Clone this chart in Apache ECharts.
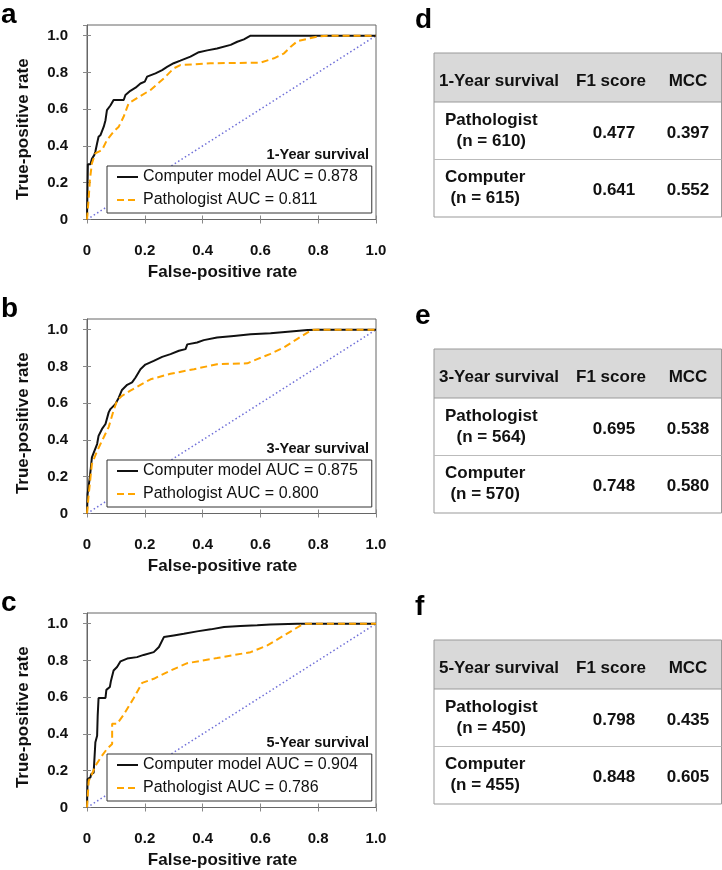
<!DOCTYPE html>
<html><head><meta charset="utf-8">
<script src="https://cdn.jsdelivr.net/npm/echarts@6/dist/echarts.min.js"></script>
<style>html,body{margin:0;padding:0;background:#fff}#c{width:722px;height:870px}</style>
</head><body><div id="c"></div>
<script>
const FONT = '"Liberation Sans", Arial, Helvetica, sans-serif';

// ---- data ----
const tickLabels = ['0', '0.2', '0.4', '0.6', '0.8', '1.0'];
const panelLetters = ['a', 'b', 'c', 'd', 'e', 'f'];
const survivalLabels = ['1-Year survival', '3-Year survival', '5-Year survival'];
const computerAUC = ['0.878', '0.875', '0.904'];
const pathologistAUC = ['0.811', '0.800', '0.786'];

const computer1 = [[0,0],[0.003,0.30],[0.012,0.30],[0.017,0.33],[0.025,0.35],[0.029,0.37],[0.035,0.415],[0.04,0.45],[0.047,0.46],[0.052,0.47],[0.058,0.505],[0.064,0.54],[0.069,0.595],[0.081,0.62],[0.092,0.65],[0.127,0.65],[0.133,0.677],[0.15,0.70],[0.168,0.717],[0.185,0.74],[0.2,0.75],[0.208,0.777],[0.237,0.795],[0.26,0.813],[0.277,0.83],[0.30,0.85],[0.323,0.864],[0.358,0.886],[0.387,0.91],[0.416,0.92],[0.45,0.93],[0.497,0.95],[0.52,0.967],[0.543,0.98],[0.566,1.0],[1,1]];
const pathologist1 = [[0,0],[0.006,0.12],[0.01,0.215],[0.017,0.305],[0.029,0.36],[0.052,0.378],[0.069,0.432],[0.092,0.478],[0.11,0.505],[0.127,0.56],[0.144,0.632],[0.173,0.66],[0.22,0.705],[0.266,0.768],[0.30,0.822],[0.323,0.84],[0.427,0.85],[0.60,0.853],[0.647,0.877],[0.682,0.904],[0.705,0.94],[0.728,0.97],[0.797,0.995],[0.832,1.0],[1,1]];

const computer3 = [[0,0],[0.002,0.105],[0.01,0.2],[0.017,0.305],[0.023,0.33],[0.035,0.378],[0.04,0.422],[0.052,0.46],[0.064,0.487],[0.075,0.55],[0.081,0.568],[0.098,0.595],[0.11,0.63],[0.121,0.672],[0.139,0.70],[0.156,0.713],[0.168,0.74],[0.185,0.785],[0.202,0.81],[0.231,0.83],[0.26,0.852],[0.289,0.867],[0.318,0.885],[0.341,0.894],[0.347,0.92],[0.381,0.93],[0.404,0.943],[0.45,0.957],[0.508,0.966],[0.566,0.975],[0.635,0.98],[0.705,0.99],[0.763,0.998],[0.80,1.0],[1,1]];
const pathologist3 = [[0,0],[0.006,0.105],[0.017,0.27],[0.035,0.34],[0.058,0.415],[0.075,0.47],[0.092,0.56],[0.104,0.614],[0.121,0.64],[0.15,0.668],[0.185,0.70],[0.22,0.73],[0.289,0.76],[0.37,0.785],[0.45,0.812],[0.555,0.817],[0.589,0.84],[0.635,0.868],[0.682,0.904],[0.728,0.95],[0.774,0.995],[0.786,1.0],[1,1]];

const computer5 = [[0,0],[0.002,0.155],[0.012,0.164],[0.014,0.18],[0.023,0.19],[0.025,0.245],[0.029,0.355],[0.035,0.39],[0.037,0.5],[0.04,0.596],[0.064,0.596],[0.067,0.64],[0.079,0.655],[0.083,0.69],[0.092,0.745],[0.104,0.764],[0.116,0.795],[0.139,0.81],[0.173,0.818],[0.196,0.83],[0.231,0.845],[0.249,0.873],[0.266,0.927],[0.30,0.936],[0.335,0.945],[0.381,0.958],[0.428,0.969],[0.474,0.982],[0.531,0.987],[0.589,0.991],[0.635,0.995],[0.728,1.0],[1,1]];
const pathologist5 = [[0,0],[0.006,0.145],[0.017,0.18],[0.029,0.227],[0.052,0.282],[0.069,0.318],[0.087,0.345],[0.087,0.455],[0.104,0.455],[0.127,0.505],[0.162,0.596],[0.191,0.678],[0.231,0.70],[0.289,0.745],[0.347,0.785],[0.45,0.813],[0.566,0.845],[0.624,0.882],[0.682,0.936],[0.74,0.991],[0.757,1.0],[1,1]];

const chanceLine = [[0,0],[1,1]];

const tableRowNames = ['Pathologist', 'Computer'];
const tableColNames = ['F1 score', 'MCC'];
const nPathologist = [610, 564, 450];
const nComputer = [615, 570, 455];
const f1Pathologist = ['0.477', '0.695', '0.798'];
const f1Computer = ['0.641', '0.748', '0.848'];
const mccPathologist = ['0.397', '0.538', '0.435'];
const mccComputer = ['0.552', '0.580', '0.605'];

const computerCurves = [computer1, computer3, computer5];
const pathologistCurves = [pathologist1, pathologist3, pathologist5];

// ---- layout ----
const gridTops = [25, 319, 613];
const gridLeft = 87, gridWidth = 289, gridHeight = 194.5;
const tableTops = [53, 349, 640];
const tableX0 = 434, tableX1 = 721.5, headH = 49, rowH = 57.5;
const Y_MAX = 1.058;

const chart = echarts.init(document.getElementById('c'));

function tickFmt(v) {
  const i = Math.round(v / 0.2);
  return Math.abs(v - i * 0.2) < 1e-6 && i >= 0 && i < tickLabels.length ? tickLabels[i] : '';
}

const grids = [], xAxes = [], yAxes = [], series = [], legends = [], graphics = [];
const extraX = [], extraY = [];
const cvs = document.createElement('canvas').getContext('2d');
const tickStyle = { show: true, inside: true, length: 4, lineStyle: { color: '#888' } };
const letterFont = 'bold 28px ' + FONT;

for (let i = 0; i < 3; i++) {
  const top = gridTops[i];
  grids.push({ left: gridLeft, top: top, width: gridWidth, height: gridHeight, show: true, borderColor: '#666', borderWidth: 1, backgroundColor: '#fff' });
  xAxes.push({
    type: 'value', gridIndex: i, min: 0, max: 1, interval: 0.2,
    axisLine: { show: true, onZero: false, lineStyle: { color: '#666', width: 1 } },
    axisTick: tickStyle,
    splitLine: { show: false },
    axisLabel: { formatter: tickFmt, margin: 24, color: '#111', fontFamily: FONT, fontWeight: 'bold', fontSize: 15 },
    name: 'False-positive rate', nameLocation: 'middle', nameGap: 44,
    nameTextStyle: { color: '#111', fontFamily: FONT, fontWeight: 'bold', fontSize: 17, padding: [0, 18, 0, 0] }
  });
  yAxes.push({
    type: 'value', gridIndex: i, min: 0, max: Y_MAX, interval: 0.2,
    axisLine: { show: true, onZero: false, lineStyle: { color: '#666', width: 1 } },
    axisTick: tickStyle,
    splitLine: { show: false },
    axisLabel: { formatter: tickFmt, margin: 19, color: '#111', fontFamily: FONT, fontWeight: 'bold', fontSize: 15, showMaxLabel: false },
    name: 'True-positive rate', nameLocation: 'middle', nameGap: 55,
    nameTextStyle: { color: '#111', fontFamily: FONT, fontWeight: 'bold', fontSize: 17, padding: [0, 14, 0, 0] }
  });
  extraX.push({
    type: 'value', gridIndex: i, position: 'top', min: 0, max: 1, interval: 0.2,
    axisLine: { show: false }, axisTick: tickStyle, axisLabel: { show: false }, splitLine: { show: false }
  });
  extraY.push({
    type: 'value', gridIndex: i, position: 'right', min: 0, max: Y_MAX, interval: 0.2,
    axisLine: { show: false }, axisTick: tickStyle, axisLabel: { show: false }, splitLine: { show: false }
  });
  const cName = 'Computer model AUC = ' + computerAUC[i];
  const pName = 'Pathologist AUC = ' + pathologistAUC[i];
  series.push({
    type: 'line', xAxisIndex: i, yAxisIndex: i, data: chanceLine, symbol: 'none', silent: true,
    lineStyle: { color: '#6f6fd8', width: 1.5, type: [1.5, 2.5] }, z: 1
  });
  series.push({
    type: 'line', name: cName, xAxisIndex: i, yAxisIndex: i, data: computerCurves[i], symbol: 'none',
    lineStyle: { color: '#111', width: 2 }, itemStyle: { color: '#111' }, z: 2
  });
  series.push({
    type: 'line', name: pName, xAxisIndex: i, yAxisIndex: i, data: pathologistCurves[i], symbol: 'none',
    lineStyle: { color: '#ffa500', width: 2, type: [7, 4] }, itemStyle: { color: '#ffa500' }, z: 3
  });
  legends.push({
    data: [cName, pName], orient: 'vertical', left: 107, top: top + 141,
    itemWidth: 21, itemHeight: 14, itemGap: 7, padding: [3, 14, 5, 9],
    borderColor: '#333', borderWidth: 1, backgroundColor: '#fff', selectedMode: false,
    itemStyle: { opacity: 0 },
    lineStyle: { width: 2 },
    textStyle: { color: '#111', fontFamily: FONT, fontSize: 16 }
  });
  graphics.push({
    type: 'text', right: 722 - 369, top: top + 122, z: 10,
    style: { text: survivalLabels[i], fill: '#111', font: 'bold 14.5px ' + FONT }
  });
  graphics.push({
    type: 'text', left: 1, top: gridTops[i] - 24,
    style: { text: panelLetters[i], fill: '#000', font: letterFont }
  });
}

// tables
const nameFont = 'bold 17px ' + FONT;
cvs.font = nameFont;
for (let t = 0; t < 3; t++) {
  const y0 = tableTops[t];
  graphics.push({ type: 'text', left: 415, top: y0 - 47, style: { text: panelLetters[3 + t], fill: '#000', font: letterFont } });
  graphics.push({ type: 'rect', shape: { x: tableX0, y: y0, width: tableX1 - tableX0, height: headH }, style: { fill: '#d9d9d9', stroke: null } });
  graphics.push({ type: 'rect', shape: { x: tableX0, y: y0, width: tableX1 - tableX0, height: headH + 2 * rowH }, style: { fill: null, stroke: '#999', lineWidth: 1 } });
  graphics.push({ type: 'line', shape: { x1: tableX0, y1: y0 + headH, x2: tableX1, y2: y0 + headH }, style: { stroke: '#999', lineWidth: 1 } });
  graphics.push({ type: 'line', shape: { x1: tableX0, y1: y0 + headH + rowH, x2: tableX1, y2: y0 + headH + rowH }, style: { stroke: '#bbb', lineWidth: 1 } });
  graphics.push({ type: 'text', x: 439, y: y0 + 28, style: { text: survivalLabels[t], fill: '#111', font: nameFont, textAlign: 'left', textVerticalAlign: 'middle' } });
  graphics.push({ type: 'text', x: 611, y: y0 + 28, style: { text: tableColNames[0], fill: '#111', font: nameFont, textAlign: 'center', textVerticalAlign: 'middle' } });
  graphics.push({ type: 'text', x: 688, y: y0 + 28, style: { text: tableColNames[1], fill: '#111', font: nameFont, textAlign: 'center', textVerticalAlign: 'middle' } });
  const rows = [
    [tableRowNames[0], nPathologist[t], f1Pathologist[t], mccPathologist[t]],
    [tableRowNames[1], nComputer[t], f1Computer[t], mccComputer[t]]
  ];
  rows.forEach((r, k) => {
    const ry = y0 + headH + k * rowH;
    const w = cvs.measureText(r[0]).width;
    const cx = 445 + w / 2;
    graphics.push({ type: 'text', x: cx, y: ry + 18, style: { text: r[0], fill: '#111', font: nameFont, textAlign: 'center', textVerticalAlign: 'middle' } });
    graphics.push({ type: 'text', x: cx, y: ry + 39, style: { text: '(n = ' + r[1] + ')', fill: '#111', font: nameFont, textAlign: 'center', textVerticalAlign: 'middle' } });
    graphics.push({ type: 'text', x: 614, y: ry + 31, style: { text: r[2], fill: '#111', font: nameFont, textAlign: 'center', textVerticalAlign: 'middle' } });
    graphics.push({ type: 'text', x: 688, y: ry + 31, style: { text: r[3], fill: '#111', font: nameFont, textAlign: 'center', textVerticalAlign: 'middle' } });
  });
}

chart.setOption({
  animation: false,
  backgroundColor: '#fff',
  grid: grids, xAxis: xAxes.concat(extraX), yAxis: yAxes.concat(extraY), series: series, legend: legends,
  graphic: { elements: graphics }
});
</script>
</body></html>
